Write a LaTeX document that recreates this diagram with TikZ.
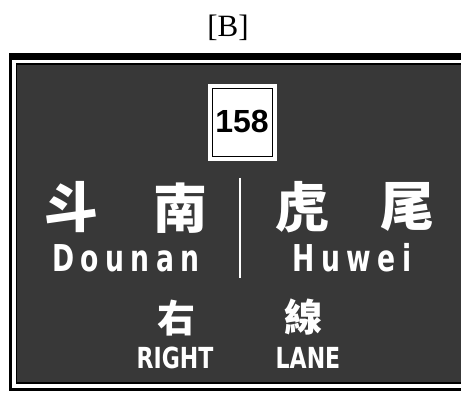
\documentclass[tikz,border=0pt]{standalone}
\usepackage{fontspec}
\setmainfont{Liberation Serif}
\newfontfamily\cjk{Noto Sans CJK TC}
\newfontfamily\signsans{Liberation Sans}
\newfontfamily\signheavy{DejaVu Sans}
\newcommand\lsp{\kern9pt\relax}
\definecolor{signgray}{gray}{0.22}
\tikzset{
  cjkchar/.style={text=white, inner sep=0pt, font=\cjk\bfseries\fontsize{54}{54}\selectfont},
  cjksmall/.style={text=white, inner sep=0pt, font=\cjk\bfseries\fontsize{38}{38}\selectfont},
  latinbig/.style={text=white, inner sep=0pt, anchor=base, xscale=0.72, transform shape, font=\signheavy\bfseries\fontsize{37}{38}\selectfont},
  latinsmall/.style={text=white, inner sep=0pt, anchor=base, xscale=0.76, transform shape, font=\signheavy\bfseries\fontsize{29}{29}\selectfont},
  shieldbox/.style={fill=white, draw=none, minimum width=69pt, minimum height=77pt, inner sep=0pt},
}
\begin{document}
\begin{tikzpicture}[x=1pt,y=1pt]
\clip (0,0) rectangle (461,393);
\fill[white] (0,0) rectangle (461,393);
% caption
\node[anchor=base, inner sep=0pt, font=\fontsize{31}{31}\selectfont] (cap) at (228,356) {[B]};
% sign frame
\fill[black] (9,2) rectangle (480,340);
\fill[white] (12,5) rectangle (476,333);
\fill[black] (15.5,9) rectangle (472,329.5);
\fill[signgray] (17,10.5) rectangle (470,328);
% route shield
\node[shieldbox] (shield) at (242.5,270.5) {};
\draw[black, line width=1.3pt] ([shift={(4.5,4.5)}]shield.south west) rectangle ([shift={(-4.5,-4.5)}]shield.north east);
\node[anchor=base, inner sep=0pt, font=\signsans\bfseries\fontsize{32}{32}\selectfont] (route) at (242,260) {158};
% divider
\coordinate (divtop) at (240,215);
\coordinate (divbot) at (240,115);
\draw[white, line width=2pt] (divtop) -- (divbot);
% destinations
\node[cjkchar] (dou) at (71,186) {斗};
\node[cjkchar] (nan) at (180,185) {南};
\node[cjkchar] (hu) at (302,186) {虎};
\node[cjkchar] (wei) at (407,186) {尾};
\node[latinbig] (dounan) at (126,121) {D\lsp o\lsp u\lsp n\lsp a\lsp n};
\node[latinbig] (huwei) at (352,121) {H\lsp u\lsp w\lsp e\lsp i};
% lane
\node[cjksmall] (you) at (176,75) {右};
\node[cjksmall] (xian) at (303,76) {線};
\node[latinsmall] (right) at (175,24) {RIGHT};
\node[latinsmall] (lane) at (308,24) {LANE};
\end{tikzpicture}
\end{document}
